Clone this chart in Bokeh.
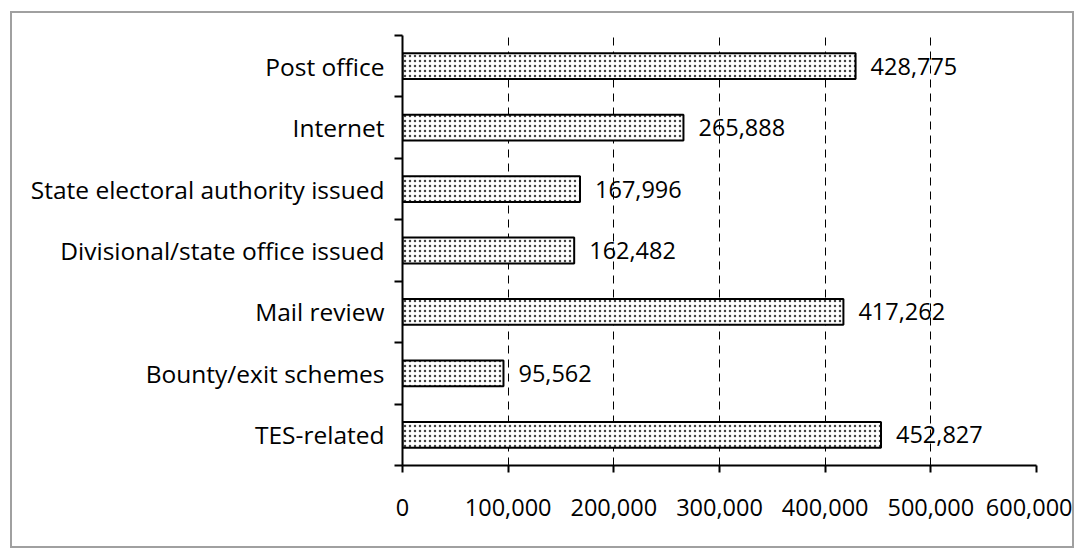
from bokeh.plotting import figure
from bokeh.models import FixedTicker, NumeralTickFormatter, Range1d, ColumnDataSource
from bokeh.core.properties import value
from bokeh.embed import file_html
from bokeh.resources import INLINE

categories = ["TES-related", "Bounty/exit schemes", "Mail review",
              "Divisional/state office issued", "State electoral authority issued",
              "Internet", "Post office"]
values = [452827, 95562, 417262, 162482, 167996, 265888, 428775]
x_ticks = [0, 100000, 200000, 300000, 400000, 500000, 600000]

FONT = "Open Sans"
FS_CAT = "24.5px"
FS_NUM = "23.5px"

pos = list(range(len(categories)))
src = ColumnDataSource(dict(y=pos, v=values, cat=categories,
                            label=[f"{v:,}" for v in values]))

p = figure(width=1064, height=537, x_range=Range1d(0, 600000),
           y_range=Range1d(-0.5, len(categories) - 0.5),
           output_backend="svg", toolbar_location=None,
           min_border_left=390, min_border_right=40,
           min_border_top=22, min_border_bottom=85)
p.styles = {"border": "2px solid #a0a0a0", "margin-left": "10px", "margin-top": "11px"}
p.outline_line_color = None
p.background_fill_color = "white"
p.border_fill_color = "white"

p.hbar(y="y", right="v", left=0, height=0.42, source=src,
       fill_color="white", line_color="black", line_width=2,
       hatch_pattern="dot", hatch_scale=5, hatch_color="#444444", hatch_weight=1)

p.text(x="v", y="y", text="label", source=src, x_offset=15,
       text_baseline="middle", text_align="left",
       text_font=value(FONT), text_font_size=FS_NUM, text_color="black")

# y axis
p.yaxis.ticker = FixedTicker(ticks=pos, minor_ticks=[i - 0.5 for i in range(len(categories) + 1)])
p.yaxis.major_label_overrides = {i: c for i, c in zip(pos, categories)}
p.yaxis.axis_line_width = 2
p.yaxis.axis_line_color = "black"
p.yaxis.major_tick_line_color = None
p.yaxis.major_tick_out = 0
p.yaxis.major_tick_in = 0
p.yaxis.minor_tick_in = 0
p.yaxis.minor_tick_out = 8
p.yaxis.minor_tick_line_width = 2
p.yaxis.minor_tick_line_color = "black"
p.yaxis.major_label_standoff = 10
p.yaxis.major_label_text_font = FONT
p.yaxis.major_label_text_font_size = FS_CAT
p.yaxis.major_label_text_color = "black"

# x axis
p.xaxis.ticker = FixedTicker(ticks=x_ticks)
p.xaxis.formatter = NumeralTickFormatter(format="0,0")
p.xaxis.axis_line_width = 2
p.xaxis.axis_line_color = "black"
p.xaxis.major_tick_in = 0
p.xaxis.major_tick_out = 7
p.xaxis.major_tick_line_width = 2
p.xaxis.major_tick_line_color = "black"
p.xaxis.minor_tick_line_color = None
p.xaxis.major_label_standoff = 26
p.xaxis.major_label_text_font = FONT
p.xaxis.major_label_text_font_size = FS_NUM
p.xaxis.major_label_text_color = "black"

p.ygrid.visible = False
p.xgrid.ticker = FixedTicker(ticks=x_ticks)
p.xgrid.grid_line_color = "black"
p.xgrid.grid_line_width = 1
p.xgrid.grid_line_dash = "8 6"

open("out.html", "w").write(file_html(p, INLINE))
